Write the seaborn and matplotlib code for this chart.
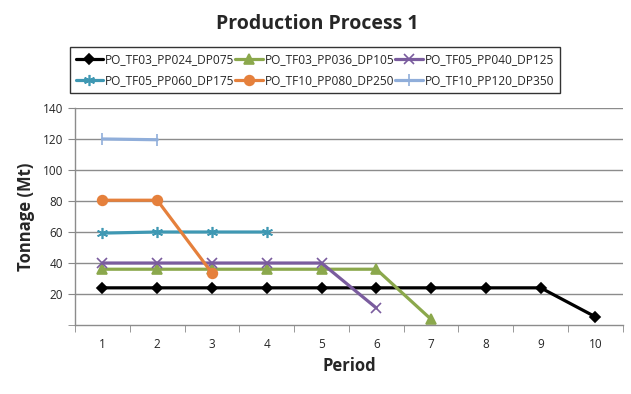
import numpy as np
import pandas as pd
import matplotlib
matplotlib.use("Agg")
import matplotlib.pyplot as plt
import seaborn as sns

# ================
# Data
# ================
series_names = ["PO_TF03_PP024_DP075", "PO_TF03_PP036_DP105", "PO_TF05_PP040_DP125",
                "PO_TF05_PP060_DP175", "PO_TF10_PP080_DP250", "PO_TF10_PP120_DP350"]
periods = [1, 2, 3, 4, 5, 6, 7, 8, 9, 10]
tf03_pp024 = [24, 24, 24, 24, 24, 24, 24, 24, 24, 5.3]
tf03_pp036 = [36, 36, 36, 36, 36, 36, 3.7]
tf05_pp040 = [40, 40, 40, 40, 40, 11]
tf05_pp060 = [59.3, 60, 60, 60]
tf10_pp080 = [80.5, 80.5, 33.5]
tf10_pp120 = [120, 119.5]

values = [tf03_pp024, tf03_pp036, tf05_pp040, tf05_pp060, tf10_pp080, tf10_pp120]
colors = ["#000000", "#8BA84C", "#7A5C9E", "#3F98B3", "#E5803C", "#90AEDA"]
markers = ["D", "^", "x", (6, 2, 0), "o", "|"]
msizes = [5, 7, 7, 8, 7, 8]

df = pd.concat([pd.DataFrame({"Period": periods[:len(v)], "Tonnage": v, "Series": n})
                for n, v in zip(series_names, values)])

# ================
# Plot
# ================
sns.set_style("white")
plt.rcParams["font.family"] = ["Open Sans", "DejaVu Sans"]

fig = plt.figure(figsize=(6.31, 3.94), dpi=100)
ax = fig.add_axes([0.119, 0.175, 0.868, 0.551])

for name, c, m, s in zip(series_names, colors, markers, msizes):
    sub = df[df["Series"] == name]
    sns.lineplot(data=sub, x="Period", y="Tonnage", ax=ax, color=c, marker=m,
                 markersize=s, linewidth=2.3, markeredgecolor=c, markeredgewidth=1.2,
                 label=name)

ax.set_xlim(0.5, 10.5)
ax.set_ylim(0, 140)
ax.set_xticks(periods)
ax.set_xticks(np.arange(0.5, 11, 1), minor=True)
ax.set_yticks(range(20, 141, 20))
ax.set_yticks([0], minor=True)
ax.tick_params(axis="x", which="major", length=0, labelsize=8.5, pad=9)
ax.tick_params(axis="x", which="minor", length=5, color="#888888", direction="out", bottom=True)
ax.tick_params(axis="y", which="both", length=5, color="#888888", direction="out", left=True, labelsize=8.5)
ax.yaxis.grid(True, color="#8c8c8c", linewidth=1)
ax.set_axisbelow(True)
for sp in ["top", "right"]:
    ax.spines[sp].set_visible(False)
for sp in ["left", "bottom"]:
    ax.spines[sp].set_color("#8c8c8c")
    ax.spines[sp].set_linewidth(1)

ax.set_xlabel("Period", fontsize=12, fontweight="bold", labelpad=5)
ax.set_ylabel("Tonnage (Mt)", fontsize=12, fontweight="bold", labelpad=6)
fig.suptitle("Production Process 1", fontsize=14, fontweight="bold", x=0.503, y=0.965)

ax.legend_.remove()
handles, labels = ax.get_legend_handles_labels()
order = [0, 3, 1, 4, 2, 5]
leg = fig.legend([handles[i] for i in order], [labels[i] for i in order],
                 loc="center", bbox_to_anchor=(0.499, 0.822), ncol=3,
                 fontsize=8.6, frameon=True, fancybox=False, edgecolor="black",
                 handlelength=2.3, handletextpad=0.15, columnspacing=0.1,
                 borderpad=0.5, labelspacing=0.65, borderaxespad=0)
leg.get_frame().set_linewidth(1)

fig.savefig("out.png", dpi=100)
